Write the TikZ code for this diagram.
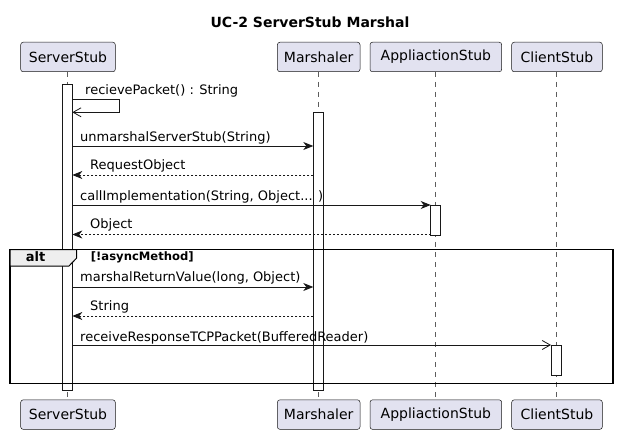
\documentclass[tikz,border=0pt]{standalone}
\usepackage{fontspec}
\setmainfont{DejaVu Sans}
\usetikzlibrary{arrows.meta}
\definecolor{partfill}{HTML}{E2E2F0}
\definecolor{linecol}{HTML}{181818}
\definecolor{tabfill}{HTML}{EEEEEE}
\begin{document}
\begin{tikzpicture}[x=1pt,y=-1pt,
  part/.style={draw=linecol, fill=partfill, rounded corners=2.5pt, minimum height=29.5pt, inner sep=0pt, font=\fontsize{14}{16}\selectfont, line width=0.5pt},
  act/.style={draw=linecol, fill=white, line width=0.8pt},
  life/.style={draw=linecol!70, dash pattern=on 5pt off 5pt, line width=0.5pt},
  msg/.style={draw=linecol, line width=0.8pt, -{Stealth[length=10pt,width=8pt,inset=3pt]}},
  ret/.style={msg, dash pattern=on 2pt off 2pt},
  omsg/.style={draw=linecol, line width=0.8pt, -{Straight Barb[length=8pt,width=9pt,line width=0.8pt]}},
  lbl/.style={font=\fontsize{13}{15}\selectfont, anchor=base west, inner sep=0pt},
]
\useasboundingbox (0,0) rectangle (617,435);
\fill[white] (0,0) rectangle (617,435);

\node[font=\bfseries\fontsize{14}{16}\selectfont] (title) at (310,22) {UC-2 ServerStub Marshal};

% participants top
\node[part, minimum width=94.6pt] (sT) at (68,57) {ServerStub};
\node[part, minimum width=82.6pt] (mT) at (318.7,57) {Marshaler};
\node[part, minimum width=131.7pt] (aT) at (435.85,57) {AppliactionStub};
\node[part, minimum width=90.6pt] (cT) at (557,57) {ClientStub};
% participants bottom
\node[part, minimum width=94.6pt] (sB) at (68,414.6) {ServerStub};
\node[part, minimum width=82.6pt] (mB) at (318.7,414.6) {Marshaler};
\node[part, minimum width=131.7pt] (aB) at (435.85,414.6) {AppliactionStub};
\node[part, minimum width=90.6pt] (cB) at (557,414.6) {ClientStub};

% lifelines
\draw[life] (sT.south -| 67.7,0) -- (sB.north -| 67.7,0);
\draw[life] (mT.south -| 318.4,0) -- (mB.north -| 318.4,0);
\draw[life] (aT.south -| 435.7,0) -- (aB.north -| 435.7,0);
\draw[life] (cT.south -| 556.3,0) -- (cB.north -| 556.3,0);

% activations
\draw[act] (62.3,84.3) rectangle (72.3,390) coordinate (sAct);
\draw[act] (313.3,112.3) rectangle (323.3,390) coordinate (mAct);
\draw[act] (430.7,205) rectangle (440.7,235) coordinate (aAct);
\draw[act] (551,345) rectangle (561.3,375.5) coordinate (cAct);

% alt frame
\draw[line width=1.5pt, draw=black] (10,249.5) rectangle (613,383.3);
\node[coordinate] (frameTL) at (10,249.5) {};
\draw[line width=1pt, draw=black, fill=tabfill] (10,249.5) -- (76.7,249.5) -- (76.7,258) -- (69,266) -- (10,266) -- cycle;
\node[font=\bfseries\fontsize{13}{15}\selectfont, anchor=base] (altlbl) at (35.5,261.5) {alt};
\node[font=\bfseries\fontsize{11.6}{13}\selectfont, anchor=base west, inner sep=0pt] (guard) at (90.7,260.5) {[!asyncMethod]};

% message coordinates
\coordinate (s1a) at (72.3,99.3);
\coordinate (s1b) at (119.3,99.3);
\coordinate (s1c) at (119.3,112.3);
\coordinate (s1d) at (72.3,112.3);
\coordinate (s2) at (72.3,146);
\coordinate (m2) at (313.3,146);
\coordinate (m3) at (313.3,175);
\coordinate (s3) at (72.3,175);
\coordinate (s4) at (72.3,205);
\coordinate (a4) at (430.7,205);
\coordinate (a5) at (430.7,234.5);
\coordinate (s5) at (72.3,234.5);
\coordinate (s6) at (72.3,287);
\coordinate (m6) at (313.3,287);
\coordinate (m7) at (313.3,316);
\coordinate (s7) at (72.3,316);
\coordinate (s8) at (72.3,345);
\coordinate (c8) at (551,345);

% messages
\draw[omsg] (s1a) -- (s1b) -- (s1c) -- (s1d);
\node[lbl] (l1) at (85,95) {recievePacket() : String};
\draw[msg] (s2) -- (m2);
\node[lbl] (l2) at (80,141.5) {unmarshalServerStub(String)};
\draw[ret] (m3) -- (s3);
\node[lbl] (l3) at (90,170) {RequestObject};
\draw[msg] (s4) -- (a4);
\node[lbl] (l4) at (80,200.5) {callImplementation(String, Object... )};
\draw[ret] (a5) -- (s5);
\node[lbl] (l5) at (90,229) {Object};
\draw[msg] (s6) -- (m6);
\node[lbl] (l6) at (80,281.5) {marshalReturnValue(long, Object)};
\draw[ret] (m7) -- (s7);
\node[lbl] (l7) at (90,310.5) {String};
\draw[omsg] (s8) -- (c8);
\node[lbl] (l8) at (80,341) {receiveResponseTCPPacket(BufferedReader)};
\end{tikzpicture}
\end{document}
